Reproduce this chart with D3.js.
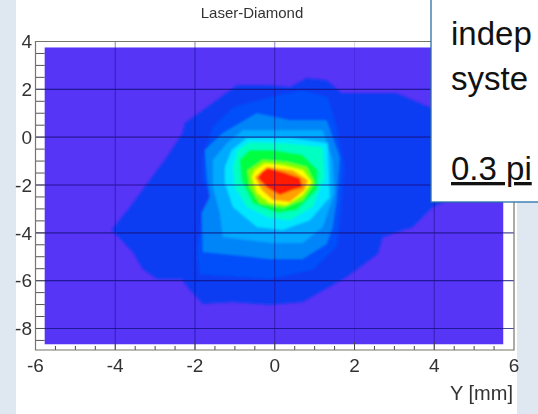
<!DOCTYPE html>
<html><head><meta charset="utf-8">
<script src="https://cdn.jsdelivr.net/npm/d3@7"></script>
<style>html,body{margin:0;padding:0;background:#fff;overflow:hidden}svg{display:block}</style>
</head><body><svg id="c" width="538" height="414"></svg>
<script>
const titleText = "Laser-Diamond";
const axisLabel = "Y [mm]";
const xMajor = [-6,-4,-2,0,2,4,6];
const yMajor = [4,2,0,-2,-4,-6,-8];
const noteLines = ["Meas","indep","syste"];
const noteLast = "0.3 pi";
const mapExtent = [[-5.77,3.75],[5.73,-8.66]];
const levelColors = ["#0a3cf2","#0050fa","#0085f8","#00aaff","#00e6ff","#00ffc0","#00ff40","#80ff00","#ffff00","#ffa000","#ff1e00"];
const level1 = [[-4.09,-3.88],[-3.63,-2.92],[-2.71,-.84],[-2.31,.17],[-2.26,.58],[-1.70,1.25],[-.95,2.17],[-.13,2.17],[.38,2.09],[.80,2.46],[1.30,2.38],[1.68,1.84],[2.38,1.84],[3.06,1.84],[3.88,1.25],[4.89,.29],[4.89,-2.21],[3.96,-2.92],[3.46,-3.76],[2.71,-4.18],[2.58,-4.89],[1.80,-5.85],[.70,-6.89],[-.13,-7.01],[-1.05,-6.89],[-1.80,-6.97],[-2.13,-6.39],[-2.33,-5.93],[-2.96,-5.93],[-3.31,-5.51],[-3.56,-4.80]];
const level2 = [[-.13,1.67],[-1.05,1.25],[-1.55,.42],[-1.80,-.84],[-1.80,-1.80],[-1.55,-2.63],[-1.80,-3.34],[-1.95,-4.72],[-1.88,-5.72],[-.13,-5.93],[.95,-5.55],[1.55,-4.59],[1.63,-3.63],[1.75,-1.25],[1.55,.42],[1.33,1.67],[.70,1.96]];
const level3 = [[-1.30,.17],[-1.75,-.54],[-1.70,-1.67],[-1.63,-2.51],[-1.83,-3.17],[-1.80,-4.80],[-.13,-5.09],[.70,-5.09],[1.30,-4.47],[1.45,-3.76],[1.55,-2.63],[1.63,-.84],[1.30,.71],[.38,.71],[-.45,1.0]];
const level4 = [[-1.20,-.25],[-1.55,-.96],[-1.55,-2.09],[-1.38,-3.17],[-1.30,-4.18],[-.05,-4.43],[.70,-4.43],[1.20,-3.76],[1.50,-2.34],[1.45,-.96],[1.20,.29],[.38,.29],[-.80,.29]];
const level5 = [[-1.08,-.54],[-1.25,-1.25],[-1.25,-1.92],[-1.05,-2.92],[-.45,-3.76],[.20,-3.88],[.88,-3.47],[1.38,-2.51],[1.33,-.25],[.38,-.04],[-.70,-.04]];
const level6 = [[-.93,-.54],[-1.05,-1.25],[-1.0,-2.09],[-.70,-2.92],[-.13,-3.38],[.38,-3.47],[.95,-2.92],[1.25,-1.67],[1.20,-.42],[.30,-.25],[-.63,-.21]];
const level7 = [[-.63,-.54],[-.88,-.96],[-.83,-1.80],[-.55,-2.76],[.05,-3.17],[.55,-3.05],[1.05,-2.21],[1.08,-1.38],[.70,-.75],[-.05,-.54]];
const level8 = [[-.30,-.96],[-.68,-1.38],[-.63,-2.09],[-.38,-2.76],[.20,-2.96],[.70,-2.63],[1.0,-1.92],[.80,-1.25],[.30,-1.04]];
const level9 = [[-.50,-1.38],[-.58,-1.67],[-.45,-2.34],[-.13,-2.76],[.30,-2.84],[.70,-2.42],[.93,-1.88],[.70,-1.38],[.20,-1.17],[-.25,-1.09]];
const level10 = [[-.50,-1.67],[-.33,-2.21],[-.05,-2.63],[.38,-2.71],[.75,-2.21],[.83,-1.80],[.45,-1.38],[-.20,-1.25]];
const level11 = [[-.33,-1.46],[-.43,-1.71],[-.18,-2.13],[.13,-2.42],[.45,-2.21],[.70,-2.09],[.63,-1.71],[.20,-1.46],[-.18,-1.29]];
const levels = [level1,level2,level3,level4,level5,level6,level7,level8,level9,level10,level11];

const svg = d3.select("#c");
const x = d3.scaleLinear().domain([-6,6]).range([35.5,514]);
const y = d3.scaleLinear().domain([-8.9,4]).range([350,41.5]);
const narrow = "'Liberation Sans Narrow','Liberation Sans',sans-serif";
const defs = svg.append("defs");
defs.append("filter").attr("id","b1").attr("x","-5%").attr("y","-5%").attr("width","110%").attr("height","110%")
  .append("feGaussianBlur").attr("stdDeviation",1.1);
defs.append("filter").attr("id","b2").append("feGaussianBlur").attr("stdDeviation",0.45);
defs.append("filter").attr("id","b3").append("feGaussianBlur").attr("stdDeviation",0.5);

// slide background
svg.append("rect").attr("width",16).attr("height",414).attr("fill","#dfe8f1");
svg.append("rect").attr("x",517).attr("width",21).attr("height",414).attr("fill","#dfe8f1");

// filled map
const map = svg.append("g").attr("filter","url(#b3)");
map.append("rect").attr("x",x(mapExtent[0][0])).attr("y",y(mapExtent[0][1]))
  .attr("width",x(mapExtent[1][0])-x(mapExtent[0][0])).attr("height",y(mapExtent[1][1])-y(mapExtent[0][1]))
  .attr("fill","#5634f6");
const line = d3.line().x(d=>x(d[0])).y(d=>y(d[1])).curve(d3.curveLinearClosed);
map.append("g").attr("filter","url(#b1)").selectAll("path").data(levels).join("path")
  .attr("d",line).attr("fill",(d,i)=>levelColors[i]);

// grid
const grid = svg.append("g").attr("filter","url(#b2)");
grid.selectAll(".h").data(yMajor.slice(1)).join("line")
  .attr("x1",x(-6)).attr("x2",x(6)).attr("y1",d=>y(d)).attr("y2",d=>y(d))
  .attr("stroke","#14127a").attr("stroke-opacity",d=>0.75).attr("stroke-width",1.2);
grid.selectAll(".v").data(xMajor.slice(1,-1)).join("line")
  .attr("y1",y(4)).attr("y2",y(-8.9)).attr("x1",d=>x(d)).attr("x2",d=>x(d))
  .attr("stroke","#14127a").attr("stroke-opacity",d=>d===2?0.15:0.5).attr("stroke-width",1);

// axes
const axes = svg.append("g").attr("filter","url(#b2)");
const yMinor = d3.range(-8.5,4,0.5);
axes.selectAll(".yt").data(yMinor).join("line").attr("x1",x(-6)).attr("x2",x(-5.77))
  .attr("y1",d=>y(d)).attr("y2",d=>y(d)).attr("stroke","#555").attr("stroke-width",1);
const xMinor = d3.range(-5.5,6,0.5);
axes.selectAll(".xt").data(xMinor).join("line").attr("y1",y(-8.9)).attr("y2",d=>y(-8.9)-(d%2===0?8:4))
  .attr("x1",d=>x(d)).attr("x2",d=>x(d)).attr("stroke","#444").attr("stroke-width",1);
axes.append("path").attr("d",`M${x(-6)},${y(-8.9)}V${y(4)}H${x(6)}V${y(-8.9)}Z`).attr("fill","none").attr("stroke","#77756a").attr("stroke-width",1.2);

const lab = svg.append("g").attr("filter","url(#b2)").attr("font-family",narrow).attr("fill","#333").attr("font-size",19);
lab.selectAll(".yl").data(yMajor).join("text").attr("x",32).attr("y",d=>y(d)).attr("dy","0.36em").attr("text-anchor","end").text(d=>d);
lab.selectAll(".xl").data(xMajor).join("text").attr("x",d=>x(d)).attr("y",372).attr("text-anchor","middle").text(d=>d);
lab.append("text").attr("x",513).attr("y",400).attr("text-anchor","end").attr("font-size",20).text(axisLabel);
lab.append("text").attr("x",252).attr("y",18).attr("text-anchor","middle").attr("font-size",15).text(titleText);

// note box
svg.append("rect").attr("x",431).attr("y",-5).attr("width",120).attr("height",207).attr("fill","#fff").attr("stroke","#2a6fa8").attr("stroke-width",1.3);
const note = svg.append("g").attr("font-family","'Liberation Sans',Arial,sans-serif").attr("font-size",33).attr("fill","#111");
note.selectAll("text").data(noteLines).join("text").attr("x",451).attr("y",(d,i)=>i*45+0).text(d=>d);
note.append("text").attr("x",451).attr("y",180).attr("text-decoration","underline").text(noteLast);
</script></body></html>
